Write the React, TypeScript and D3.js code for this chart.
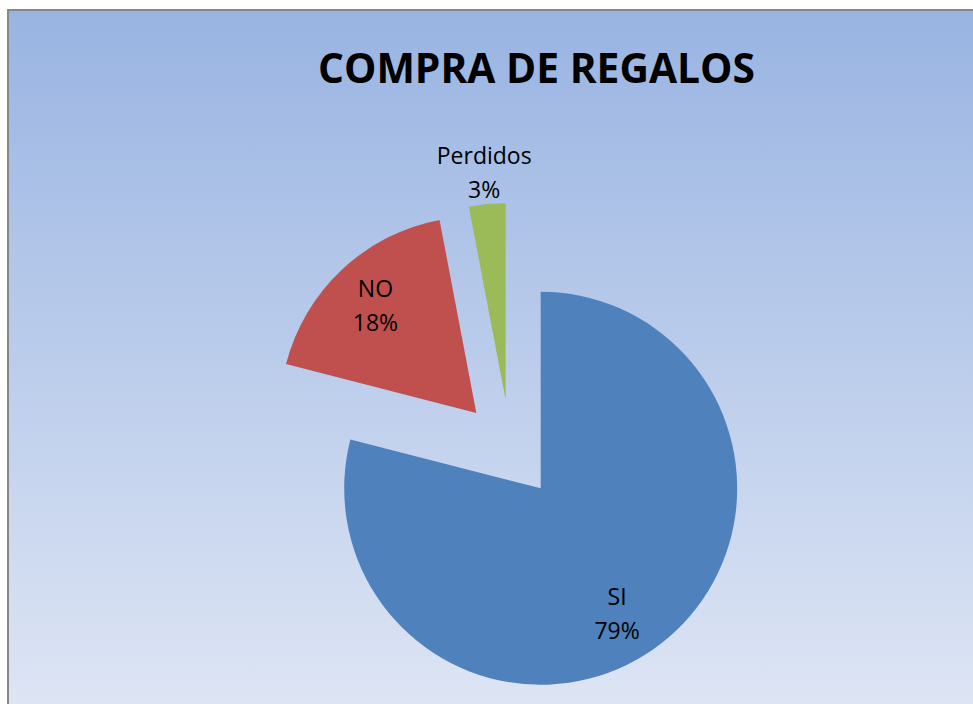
import { useEffect, useRef } from 'react';
import * as d3 from 'd3';

// chart data
const categories: string[] = ['SI', 'NO', 'Perdidos'];
const values: number[] = [79, 18, 3];
const sliceColors: string[] = ['#4f81bd', '#c0504d', '#9bbb59'];
const chartTitle = 'COMPRA DE REGALOS';

type Slice = { cat: string; value: number; color: string };

function App() {
  const svgRef = useRef<SVGSVGElement | null>(null);

  useEffect(() => {
    if (!svgRef.current) return;
    const svg = d3.select(svgRef.current);
    svg.selectAll('*').remove();

    const width = 973;
    const height = 704;
    const cx = 510.3;
    const cy = 449.1;
    const radius = 196.5;
    const explode = 49.6;

    // background gradient
    const defs = svg.append('defs');
    const grad = defs
      .append('linearGradient')
      .attr('id', 'bg')
      .attr('x1', 0)
      .attr('y1', 0)
      .attr('x2', 0)
      .attr('y2', 1);
    grad.append('stop').attr('offset', '0%').attr('stop-color', '#99b4e2');
    grad.append('stop').attr('offset', '100%').attr('stop-color', '#e0e7f5');

    svg
      .append('rect')
      .attr('x', 8)
      .attr('y', 10)
      .attr('width', width + 20)
      .attr('height', height + 20)
      .attr('fill', 'url(#bg)')
      .attr('stroke', '#878787')
      .attr('stroke-width', 2);

    // title
    svg
      .append('text')
      .attr('x', 536.5)
      .attr('y', 83)
      .attr('text-anchor', 'middle')
      .attr('font-family', '"Open Sans", sans-serif')
      .attr('font-weight', 'bold')
      .attr('font-size', '42px')
      .attr('textLength', 437)
      .attr('lengthAdjust', 'spacingAndGlyphs')
      .attr('fill', '#000')
      .text(chartTitle);

    const data: Slice[] = categories.map((c, i) => ({
      cat: c,
      value: values[i],
      color: sliceColors[i],
    }));

    const pie = d3
      .pie<Slice>()
      .sort(null)
      .value((d) => d.value);
    const arcs = pie(data);
    const total = d3.sum(values);

    const arc = d3.arc<d3.PieArcDatum<Slice>>().innerRadius(0).outerRadius(radius);

    const g = svg.append('g').attr('transform', `translate(${cx},${cy})`);

    // every slice pulled out along its bisector
    const offset = (a: d3.PieArcDatum<Slice>) => {
      const mid = (a.startAngle + a.endAngle) / 2;
      return [explode * Math.sin(mid), -explode * Math.cos(mid)];
    };

    g.selectAll('path.slice')
      .data(arcs)
      .enter()
      .append('path')
      .attr('class', 'slice')
      .attr('transform', (a) => {
        const [ox, oy] = offset(a);
        return `translate(${ox},${oy})`;
      })
      .attr('d', arc)
      .attr('fill', (a) => a.data.color);

    // labels: inside for big slices, outside for the small one
    const labelRadius = (a: d3.PieArcDatum<Slice>) =>
      a.data.value / total < 0.1 ? radius * 1.16 : radius * 0.75;
    const angleNudge = (a: d3.PieArcDatum<Slice>) =>
      a.index === 0 ? (6.6 * Math.PI) / 180 : 0;

    arcs.forEach((a) => {
      const [ox, oy] = offset(a);
      const mid = (a.startAngle + a.endAngle) / 2 + angleNudge(a);
      const r = labelRadius(a);
      const lx = ox + r * Math.sin(mid);
      const ly = oy - r * Math.cos(mid);
      const pct = Math.round((a.data.value / total) * 100) + '%';

      const t = g
        .append('text')
        .attr('text-anchor', 'middle')
        .attr('font-family', '"Open Sans", sans-serif')
        .attr('font-size', '23px')
        .attr('fill', '#000');
      t.append('tspan').attr('x', lx).attr('y', ly - 9).text(a.data.cat);
      t.append('tspan').attr('x', lx).attr('y', ly + 25).text(pct);
    });

    return () => {
      d3.select(svgRef.current).selectAll('*').remove();
    };
  }, []);

  return (
    <svg
      ref={svgRef}
      width={973}
      height={704}
      style={{ position: 'absolute', left: 0, top: 0, overflow: 'hidden' }}
    ></svg>
  );
}

export default App;
